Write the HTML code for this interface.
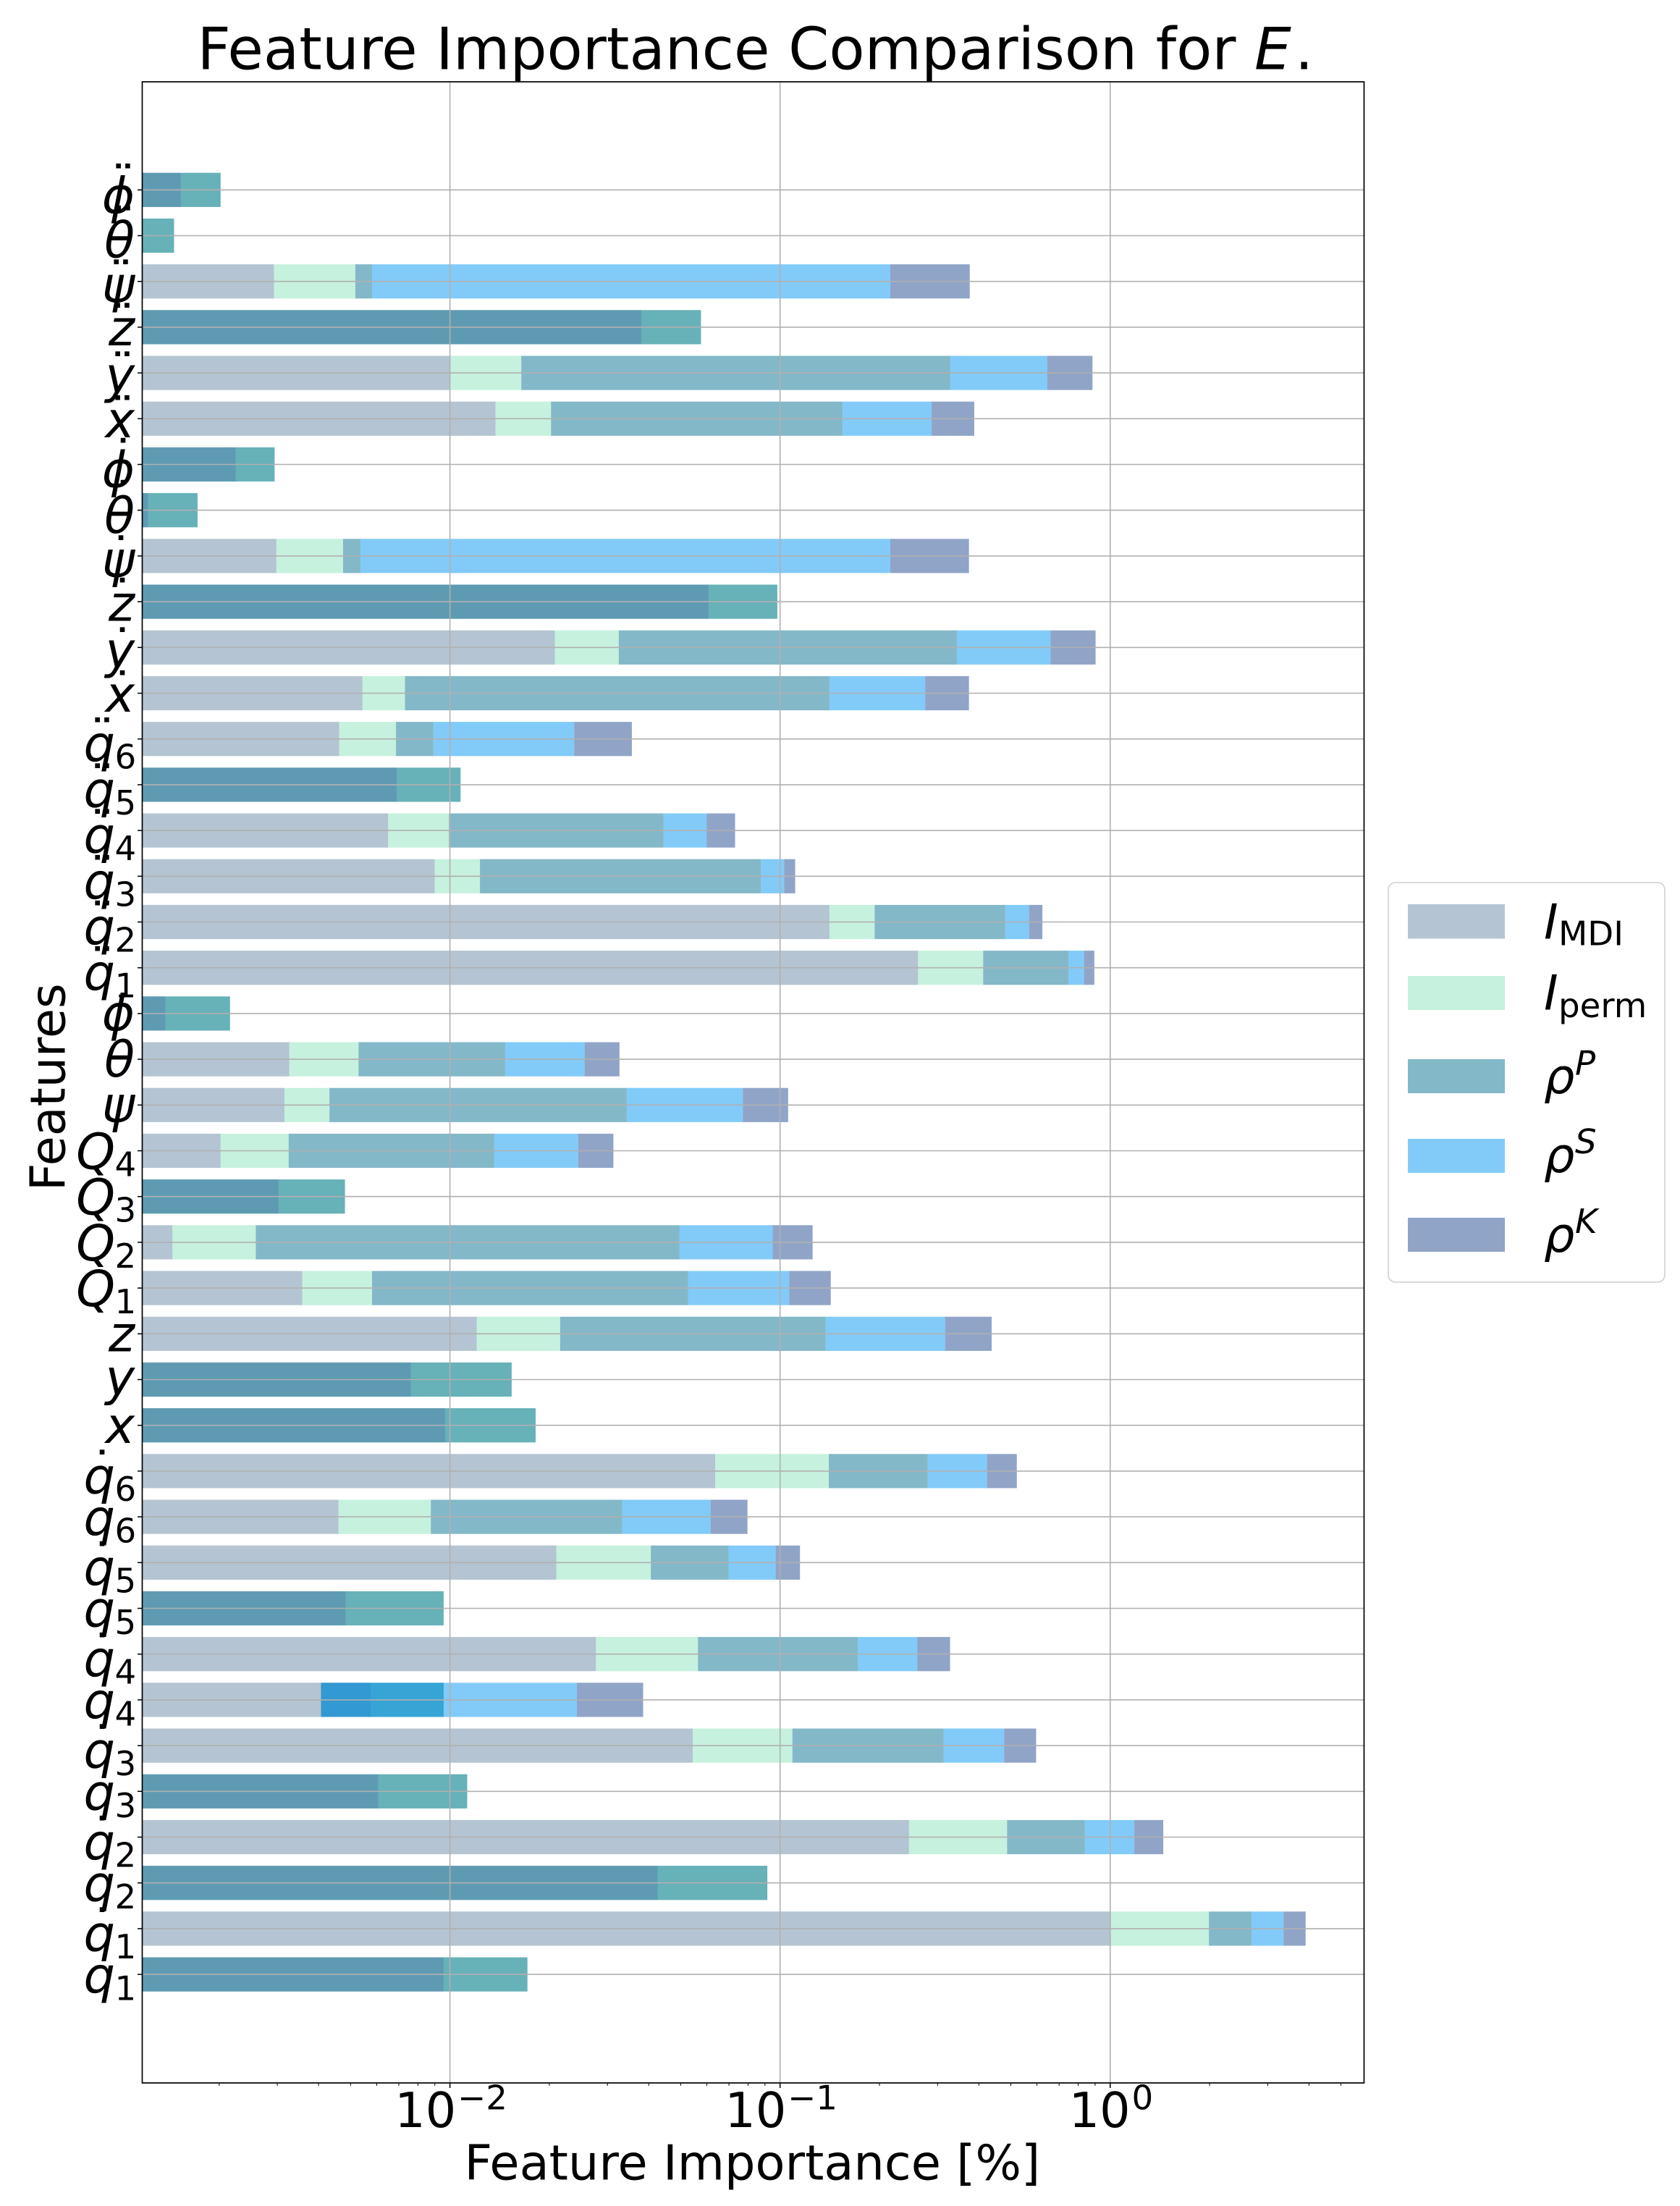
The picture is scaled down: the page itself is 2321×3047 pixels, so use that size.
<!DOCTYPE html>
<html lang="en">
<head>
<meta charset="utf-8">
<title>Feature Importance Comparison</title>
<style>
html,body{margin:0;padding:0;background:#fff;}
svg{display:block;}
text{font-family:"DejaVu Sans","Liberation Sans",sans-serif;fill:#000;}
.math{font-style:italic;}
</style>
</head>
<body>
<svg id="chart" xmlns="http://www.w3.org/2000/svg" width="2321" height="3047" viewBox="0 0 2321 3047">
  <rect x="0" y="0" width="2321" height="3047" fill="#ffffff"/>
  <text x="272.5" y="95.5" font-size="80.5">Feature Importance Comparison for <tspan class="math">E</tspan><tspan dx="5">.</tspan></text>
  <g id="bars"></g>
  <g id="grid"></g>
  <g id="ticks"></g>
  <rect x="196.5" y="113" width="1688" height="2764" fill="none" stroke="#000" stroke-width="1.7"/>
  <g id="xlabels"></g>
  <g id="ylabels"></g>
  <text x="641.5" y="3010.5" font-size="67">Feature Importance [%]</text>
  <text transform="translate(89.5,1645) rotate(-90)" font-size="66.7">Features</text>
  <g>
    <rect x="1918" y="1219" width="382" height="552" rx="10" ry="10" fill="#fff" stroke="#d5d5d5" stroke-width="1.8"/>
    <rect x="1945" y="1249" width="134" height="47.5" fill="#6989a5" fill-opacity="0.5"/>
    <text x="2133" y="1296.5" font-size="66.7"><tspan class="math">I</tspan></text>
    <text x="2153" y="1305.5" font-size="46.7">MDI</text>
    <rect x="1945" y="1348" width="134" height="47" fill="#8de3bd" fill-opacity="0.5"/>
    <text x="2133" y="1394.5" font-size="66.7"><tspan class="math">I</tspan></text>
    <text x="2153" y="1405" font-size="46.7">perm</text>
    <rect x="1945" y="1463" width="134" height="47" fill="#077191" fill-opacity="0.5"/>
    <text x="2133" y="1510" font-size="66.7"><tspan class="math">ρ</tspan></text>
    <text x="2176" y="1484.5" font-size="46.7" class="math">P</text>
    <rect x="1945" y="1573" width="134" height="47" fill="#0597f1" fill-opacity="0.5"/>
    <text x="2133" y="1619" font-size="66.7"><tspan class="math">ρ</tspan></text>
    <text x="2176" y="1593" font-size="46.7" class="math">S</text>
    <rect x="1945" y="1682" width="134" height="47" fill="#214991" fill-opacity="0.5"/>
    <text x="2133" y="1729" font-size="66.7"><tspan class="math">ρ</tspan></text>
    <text x="2176" y="1703" font-size="46.7" class="math">K</text>
  </g>
</svg>
<script>
// Row order is top to bottom of the chart.
const featureGlyphs = ['ϕ','θ','ψ','z','y','x','ϕ','θ','ψ','z','y','x','q','q','q','q','q','q','ϕ','θ','ψ','Q','Q','Q','Q','z','y','x','q','q','q','q','q','q','q','q','q','q','q','q'];
const featureSubs = ['','','','','','','','','','','','','6','5','4','3','2','1','','','','4','3','2','1','','','','6','6','5','5','4','4','3','3','2','2','1','1'];
const featureDots = [2,2,2,2,2,2,1,1,1,1,1,1,2,2,2,2,2,2,0,0,0,0,0,0,0,0,0,0,1,0,1,0,1,0,1,0,1,0,1,0];

// Running stacked totals (in %) reached after each measure. A total of 0 lies off the log axis.
const mdiEnd = [.00153,.001,.00293,.038,.01002,.01374,.002244,.001217,.00298,.0607,.02079,.005433,.004618,.006897,.0065,.00899,.1411,.2618,.001374,.003263,.003153,.00202,.003024,.001444,.00357,.01206,.007616,.009667,.0636,.004594,.02101,.004829,.02768,.005754,.05438,.00606,.2458,.04256,1.0,.009571];
const permEnd = [.00202,.00146,.00517,.0576,.01645,.02024,.002944,.00172,.004746,.0981,.03247,.00731,.006865,.01077,.00993,.01233,.1935,.4124,.002157,.005288,.004316,.003247,.004809,.002582,.00581,.02157,.01538,.01818,.1405,.008753,.04061,.009571,.05639,.009571,.109,.01128,.4873,.0915,1.991,.01717];
const pearsonEnd = [0,0,.00581,0,.3278,.1545,0,0,.00536,0,.3431,.1411,.008912,0,.04435,.08753,.4809,.7477,0,.0147,.03431,.01362,0,.04952,.05263,.1374,0,0,.2801,.03323,.06979,0,.1721,.004069,.3127,0,.838,0,2.68,0];
const spearmanEnd = [0,0,.2157,0,.6445,.2878,0,0,.2157,0,.6594,.2751,.0238,0,.05994,.103,.5679,.8332,0,.02559,.07717,.02446,0,.095,.1067,.3162,0,0,.4236,.0616,.09698,0,.2605,.02424,.4773,0,1.183,0,3.35,0];
const kendallEnd = [0,0,.3754,0,.8835,.3874,0,0,.3734,0,.9031,.3734,.03557,0,.07307,.1111,.623,.8952,0,.03263,.1058,.03127,0,.1255,.1424,.4375,0,0,.5213,.07967,.1149,0,.3273,.03848,.5964,0,1.448,0,3.908,0];

const xTickExponents = [-2,-1,0];

const NS = 'http://www.w3.org/2000/svg';
const AX = {left:196.5,right:1884.5,top:113,bottom:2877};
const xScale = v => {
  if (v <= 0) return AX.left;
  return Math.max(AX.left, Math.min(AX.right, 621.6 + 456.1 * (Math.log10(v) + 2)));
};
const yScale = i => 262.3 + 63.2 * i;
const BAR_H = 47.2;

function mk(tag, attrs, parent, txt) {
  const el = document.createElementNS(NS, tag);
  for (const k in attrs) el.setAttribute(k, attrs[k]);
  if (txt !== undefined) el.textContent = txt;
  parent.appendChild(el);
  return el;
}

const seriesKeys = ['mdi','perm','pearson','spearman','kendall'];
const seriesColors = ['#6989a5','#8de3bd','#077191','#0597f1','#214991'];
const seriesEnds = [mdiEnd, permEnd, pearsonEnd, spearmanEnd, kendallEnd];

const barsG = document.getElementById('bars');
featureGlyphs.forEach((g, i) => {
  let prev = 0;
  seriesEnds.forEach((arr, s) => {
    const end = arr[i];
    const a = xScale(prev), b = xScale(end);
    prev = end;
    if (Math.abs(b - a) < 0.01) return;
    const rect = mk('rect', {x: Math.min(a, b), y: yScale(i) - BAR_H / 2, width: Math.abs(b - a), height: BAR_H, fill: seriesColors[s], 'fill-opacity': 0.5}, barsG);
    
    
  });
});

const gridG = document.getElementById('grid');
const ticksG = document.getElementById('ticks');
const xLabelsG = document.getElementById('xlabels');

xTickExponents.forEach(e => {
  const x = xScale(Math.pow(10, e));
  const line = mk('line', {x1: x, x2: x, y1: AX.top, y2: AX.bottom, stroke: '#b0b0b0', 'stroke-width': 1.6}, gridG);
  
  
  const tick = mk('line', {x1: x, x2: x, y1: AX.bottom, y2: AX.bottom + 7, stroke: '#000', 'stroke-width': 1.5}, ticksG);
  
  
  const sup = String(e).replace('-', '\u2212');
  const supW = (e < 0 ? 38.5 : 0) + 29.3;
  const start = x - (84.8 + supW) / 2;
  const base = mk('text', {x: start, y: 2938, 'font-size': 66.7}, xLabelsG, '10');
  
  
  const exp = mk('text', {x: start + 86.8, y: 2913.5, 'font-size': 46.7}, xLabelsG, sup);
  
  
});

for (let e = -3; e <= 0; e++) {
  for (let m = 2; m <= 9; m++) {
    const v = m * Math.pow(10, e);
    const x = xScale(v);
    if (x <= AX.left || x >= AX.right) continue;
    const minor = mk('line', {x1: x, x2: x, y1: AX.bottom, y2: AX.bottom + 4, stroke: '#000', 'stroke-width': 1}, ticksG);
    
    
  }
}

// Glyph baseline offset below the tick, by glyph and dot count [none, one, two].
const baselineOffset = {'ϕ':[23,31,31.5],'θ':[24,31.5,30],'ψ':[23,28.5,28.5],'z':[24,26.5,25],'y':[21.5,28,27.5],'x':[24.5,25.5,25.5],'q':[25.5,31,31],'Q':[25,25,25]};
// Vertical centre of the dot accent above the tick.
const dotOffset = {'ϕ':[0,33,33],'θ':[0,38,38],'ψ':[0,25,26.5],'z':[0,29.6,30],'y':[0,24.4,26],'x':[0,28,28.6],'q':[0,26,26],'Q':[0,0,0]};
const dotCenterX = {'ϕ':170,'θ':170,'ψ':167,'z':169,'y':169,'x':169,'q':141,'Q':141};

const yLabelsG = document.getElementById('ylabels');
featureGlyphs.forEach((g, i) => {
  const T = yScale(i);
  const gridY = mk('line', {x1: AX.left, x2: AX.right, y1: T, y2: T, stroke: '#b0b0b0', 'stroke-width': 1.6}, gridG);
  
  
  const tick = mk('line', {x1: AX.left - 6.5, x2: AX.left, y1: T, y2: T, stroke: '#000', 'stroke-width': 1.5}, ticksG);
  
  

  const d = featureDots[i];
  const sub = featureSubs[i];
  const by = T + baselineOffset[g][d];
  const endX = sub ? 159 : 186;
  const label = mk('text', {x: endX, y: by, 'font-size': 68.5, 'text-anchor': 'end', 'class': 'math'}, yLabelsG, g);
  
  
  if (sub) {
    const subEl = mk('text', {x: 158.5, y: by + 10, 'font-size': 46.7}, yLabelsG, sub);
    
    
  }
  if (d) {
    const dotEl = mk('text', {x: dotCenterX[g], y: T - dotOffset[g][d] + 47, 'font-size': 66.7, 'text-anchor': 'middle'}, yLabelsG, d === 2 ? '\u00A8' : '\u02D9');
    
    
  }
});
</script>
</body>
</html>
